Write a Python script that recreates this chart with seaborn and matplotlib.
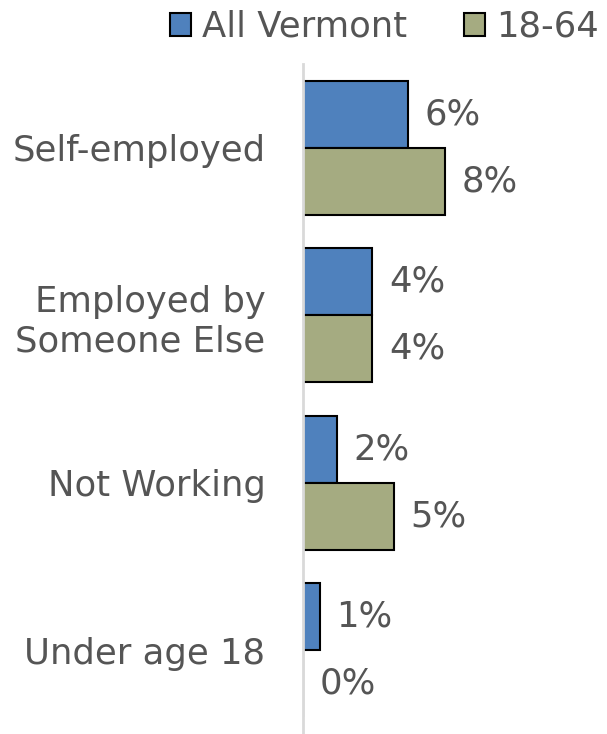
import matplotlib
matplotlib.use("Agg")
import matplotlib.pyplot as plt
import seaborn as sns
import pandas as pd
from matplotlib.patches import Patch

categories = ["Self-employed", "Employed by\nSomeone Else", "Not Working", "Under age 18"]
series = ["All Vermont", "18-64"]
all_vermont = [0.059, 0.039, 0.019, 0.0095]
age_18_64 = [0.080, 0.039, 0.051, 0.0]
colors = ["#4F81BD", "#A5AB81"]

rows = []
for c, a, b in zip(categories, all_vermont, age_18_64):
    rows.append({"category": c, "series": series[0], "value": a})
    rows.append({"category": c, "series": series[1], "value": b})
df = pd.DataFrame(rows)

sns.set_style("white")
plt.rcParams["font.family"] = ["DejaVu Sans"]
text_color = "#555555"
fs = 25.5

fig = plt.figure(figsize=(6.07, 7.34), dpi=100)
ax = fig.add_axes([303 / 607, 0.0, 297 / 607, 1 - 64 / 734])
sns.barplot(data=df, y="category", x="value", hue="series", order=categories,
            hue_order=series, palette=colors, saturation=1, orient="h",
            edgecolor="black", linewidth=1.5, ax=ax, width=0.8, legend=False)

for cont in ax.containers:
    ax.bar_label(cont, fmt=lambda v: f"{v:.0%}", padding=12, fontsize=fs,
                 color=text_color)

ax.set_xlim(0, 0.167)
ax.set_xlabel("")
ax.set_ylabel("")
ax.set_xticks([])
for s in ["top", "right", "bottom"]:
    ax.spines[s].set_visible(False)
ax.spines["left"].set_color("#d9d9d9")
ax.spines["left"].set_linewidth(2)
ax.tick_params(axis="y", length=0, pad=27, labelsize=fs, labelcolor=text_color)

handles = [Patch(facecolor=colors[i], edgecolor="black", linewidth=1.5, label=series[i])
           for i in range(2)]
fig.legend(handles=handles, loc="upper center", bbox_to_anchor=(0.633, 1.03), ncol=2,
           frameon=False, fontsize=fs, handlelength=0.6, handleheight=0.6,
           handletextpad=0.3, columnspacing=1.6, labelcolor=text_color)

fig.savefig("out.png", dpi=100)
